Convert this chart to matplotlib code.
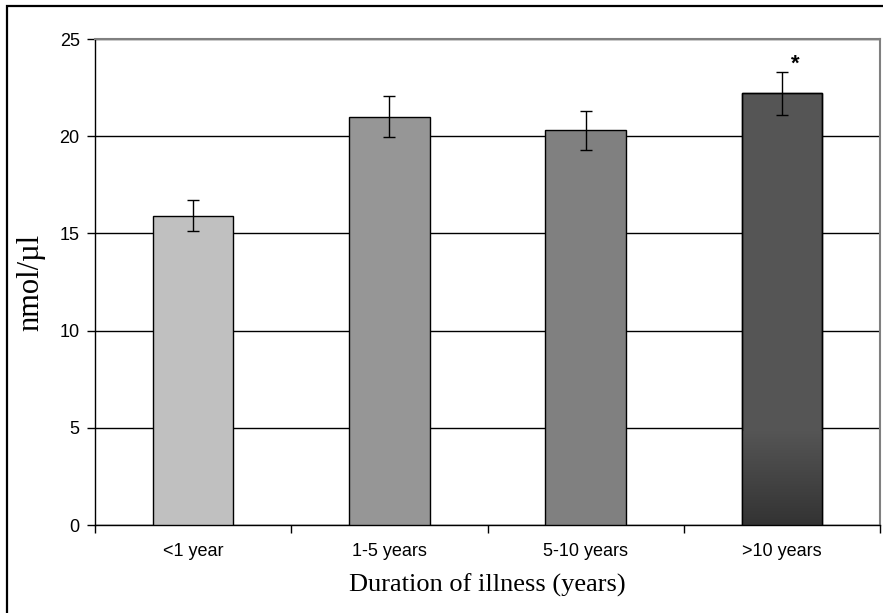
import numpy as np
import matplotlib.pyplot as plt
from matplotlib.patches import Rectangle
from matplotlib.colors import LinearSegmentedColormap

# data
categories = ['<1 year', '1-5 years', '5-10 years', '>10 years']
values = [15.9, 21.0, 20.3, 22.2]
errors = [0.8, 1.05, 1.0, 1.1]
bar_colors = ['#c0c0c0', '#969696', '#808080', '#555555']
yticks = [0, 5, 10, 15, 20, 25]

plt.rcParams['font.family'] = ['Liberation Sans', 'DejaVu Sans']

fig = plt.figure(figsize=(8.83, 6.13), dpi=100)
ax = fig.add_axes([95 / 883, 1 - 525 / 613, 785 / 883, 486 / 613])

x = np.arange(len(categories))
bars = ax.bar(x, values, width=0.41, color=bar_colors, edgecolor='black',
              linewidth=1.0, zorder=3)
ax.errorbar(x, values, yerr=errors, fmt='none', ecolor='black',
            elinewidth=1.0, capsize=4, capthick=1.0, zorder=4)

# darker gradient at the bottom of the last bar
last = bars[-1]
bx, bw = last.get_x(), last.get_width()
grad = np.linspace(0, 1, 256).reshape(-1, 1)
cmap = LinearSegmentedColormap.from_list('g', ['#333333', '#555555'])
im = ax.imshow(grad, cmap=cmap, origin='lower', aspect='auto',
               extent=(bx, bx + bw, 0, 4.8), zorder=3.5)
im.set_clip_path(last)
ax.bar(x[-1], values[-1], width=0.41, fill=False, edgecolor='black',
       linewidth=1.0, zorder=3.6)

ax.annotate('*', xy=(x[-1], values[-1] + errors[-1]), xytext=(10, -2),
            textcoords='offset points', ha='center', va='bottom',
            fontsize=16, fontweight='bold')

ax.set_xlim(-0.5, len(categories) - 0.5)
ax.set_ylim(0, 25)
ax.set_yticks(yticks)
ax.yaxis.grid(True, color='black', linewidth=1.0, zorder=0)
ax.set_axisbelow(True)

ax.set_xticks(x)
ax.set_xticklabels(categories)
ax.set_xticks(np.arange(len(categories) + 1) - 0.5, minor=True)
ax.tick_params(axis='x', which='major', length=0, pad=13, labelsize=13)
ax.tick_params(axis='x', which='minor', length=6, width=1, direction='out')
ax.tick_params(axis='y', length=6, width=1, direction='out', pad=5, labelsize=13)

ax.spines['top'].set_color('#808080')
ax.spines['right'].set_color('#808080')
ax.spines['top'].set_linewidth(1.5)
ax.spines['right'].set_linewidth(1.5)
ax.spines['left'].set_linewidth(1.0)
ax.spines['bottom'].set_linewidth(1.0)

ax.set_xlabel('Duration of illness (years)', family=['Liberation Serif'],
              fontsize=19, labelpad=10)
ax.set_ylabel('nmol/\u00b5l', family=['Liberation Serif'], fontsize=22)
ax.yaxis.set_label_coords(-50 / 785, 0.5)

# outer frame, runs off the right and bottom edges
fig.patches.append(Rectangle((7 / 883, -0.05), 1.0, 1 - 6 / 613 + 0.05,
                             transform=fig.transFigure, fill=False,
                             edgecolor='black', linewidth=1.6))

fig.savefig('out.png', dpi=100)
